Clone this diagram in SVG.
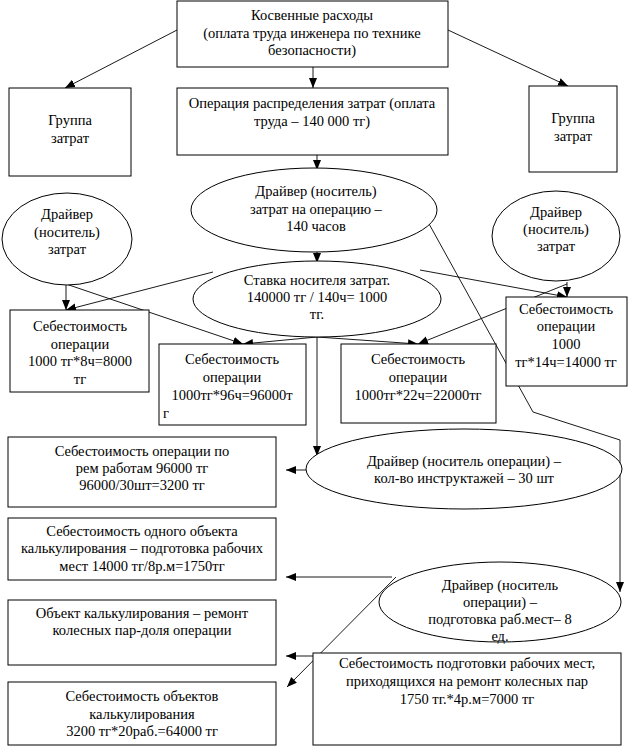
<svg xmlns="http://www.w3.org/2000/svg" width="629" height="750" viewBox="0 0 629 750">
<style>
.n{fill:#fff;stroke:#000;stroke-width:1}
.t{font-family:"Liberation Serif","Times New Roman",serif;font-size:14.5px;fill:#000;text-anchor:middle}
.c{fill:none;stroke:#000;stroke-width:0.9}
</style>
<defs>
<marker id="a" markerUnits="userSpaceOnUse" markerWidth="10" markerHeight="10" viewBox="0 0 10 10" refX="10" refY="5" orient="auto">
<path d="M0,1 L10,5 L0,9 Z" fill="#000"/>
</marker>
</defs>
<rect width="629" height="750" fill="#fff"/>
<g id="connectors">
<line class="c" x1="177" y1="30" x2="65" y2="88" marker-end="url(#a)"/>
<line class="c" x1="313" y1="67" x2="313" y2="88" marker-end="url(#a)"/>
<line class="c" x1="448" y1="30" x2="568" y2="86" marker-end="url(#a)"/>
<line class="c" x1="317" y1="155" x2="317" y2="170" marker-end="url(#a)"/>
<line class="c" x1="317" y1="252" x2="317" y2="263" marker-end="url(#a)"/>
<line class="c" x1="66" y1="285" x2="66" y2="310" marker-end="url(#a)"/>
<line class="c" x1="66" y1="284" x2="243" y2="344" marker-end="url(#a)"/>
<line class="c" x1="213" y1="272" x2="66" y2="310" marker-end="url(#a)"/>
<line class="c" x1="420" y1="270" x2="567" y2="297" marker-end="url(#a)"/>
<line class="c" x1="567" y1="282" x2="567" y2="297" marker-end="url(#a)"/>
<line class="c" x1="567" y1="284" x2="418" y2="344" marker-end="url(#a)"/>
<line class="c" x1="317" y1="337" x2="243" y2="344" marker-end="url(#a)"/>
<line class="c" x1="317" y1="337" x2="418" y2="344" marker-end="url(#a)"/>
<line class="c" x1="317" y1="337" x2="317" y2="456" marker-end="url(#a)"/>
<line class="c" x1="306" y1="470" x2="286" y2="470" marker-end="url(#a)"/>
<polyline class="c" points="428,222 533,412 620,440 620,592" marker-end="url(#a)"/>
<line class="c" x1="392" y1="577" x2="286" y2="577" marker-end="url(#a)"/>
<line class="c" x1="313" y1="656" x2="286" y2="656" marker-end="url(#a)"/>
<line class="c" x1="396" y1="577" x2="287" y2="687" marker-end="url(#a)"/>
</g>
<g id="top">
<rect class="n" x="177" y="1" width="271" height="66"/>
<text class="t" x="312" y="20">Косвенные расходы</text>
<text class="t" x="312" y="38">(оплата труда инженера по технике</text>
<text class="t" x="312" y="55">безопасности)</text>
</g>
<g id="groupLeft">
<rect class="n" x="9" y="88" width="122" height="88"/>
<text class="t" x="70" y="125">Группа</text>
<text class="t" x="70" y="143">затрат</text>
</g>
<g id="operation">
<rect class="n" x="177" y="88" width="271" height="67"/>
<text class="t" x="312" y="108">Операция распределения затрат (оплата</text>
<text class="t" x="312" y="126">труда – 140 000 тг)</text>
</g>
<g id="groupRight">
<rect class="n" x="529" y="86" width="88" height="86"/>
<text class="t" x="573" y="123">Группа</text>
<text class="t" x="573" y="141">затрат</text>
</g>
<g id="driverOp">
<ellipse class="n" cx="314" cy="210" rx="123" ry="42"/>
<text class="t" x="316" y="196">Драйвер (носитель)</text>
<text class="t" x="316" y="214">затрат на операцию –</text>
<text class="t" x="316" y="231">140 часов</text>
</g>
<g id="driverLeft">
<ellipse class="n" cx="67" cy="239" rx="65" ry="46"/>
<text class="t" x="67" y="219">Драйвер</text>
<text class="t" x="67" y="237">(носитель)</text>
<text class="t" x="67" y="254">затрат</text>
</g>
<g id="driverRight">
<ellipse class="n" cx="556" cy="236" rx="64" ry="45"/>
<text class="t" x="556" y="217">Драйвер</text>
<text class="t" x="556" y="234">(носитель)</text>
<text class="t" x="556" y="251">затрат</text>
</g>
<g id="rate">
<ellipse class="n" cx="317" cy="299" rx="124" ry="38"/>
<text class="t" x="317" y="285">Ставка носителя затрат.</text>
<text class="t" x="317" y="302">140000 тг / 140ч= 1000</text>
<text class="t" x="317" y="319">тг.</text>
</g>
<g id="costA">
<rect class="n" x="10" y="310" width="139" height="82"/>
<text class="t" x="80" y="331">Себестоимость</text>
<text class="t" x="80" y="349">операции</text>
<text class="t" x="80" y="366">1000 тг*8ч=8000</text>
<text class="t" x="80" y="384">тг</text>
</g>
<g id="costB">
<rect class="n" x="159" y="344" width="147" height="81"/>
<text class="t" x="232" y="364">Себестоимость</text>
<text class="t" x="232" y="382">операции</text>
<text class="t" x="232" y="400">1000тг*96ч=96000т</text>
<text class="t" x="163" y="418" style="text-anchor:start">г</text>
</g>
<g id="costC">
<rect class="n" x="341" y="344" width="155" height="79"/>
<text class="t" x="418" y="364">Себестоимость</text>
<text class="t" x="418" y="382">операции</text>
<text class="t" x="418" y="400">1000тг*22ч=22000тг</text>
</g>
<g id="costD">
<rect class="n" x="506" y="297" width="121" height="89"/>
<text class="t" x="566" y="314">Себестоимость</text>
<text class="t" x="566" y="331">операции</text>
<text class="t" x="566" y="349">1000</text>
<text class="t" x="566" y="367">тг*14ч=14000 тг</text>
</g>
<g id="costRepair">
<rect class="n" x="8" y="437" width="268" height="70"/>
<text class="t" x="142" y="456">Себестоимость операции по</text>
<text class="t" x="142" y="473">рем работам 96000 тг</text>
<text class="t" x="142" y="490">96000/30шт=3200 тг</text>
</g>
<g id="driverBriefing">
<ellipse class="n" cx="464" cy="469" rx="158" ry="40"/>
<text class="t" x="464" y="466">Драйвер (носитель операции) –</text>
<text class="t" x="464" y="483">кол-во инструктажей – 30 шт</text>
</g>
<g id="costOneObject">
<rect class="n" x="8" y="518" width="268" height="62"/>
<text class="t" x="142" y="536">Себестоимость одного объекта</text>
<text class="t" x="142" y="553">калькулирования – подготовка рабочих</text>
<text class="t" x="142" y="571">мест 14000 тг/8р.м=1750тг</text>
</g>
<g id="driverWorkplace">
<ellipse class="n" cx="500" cy="602" rx="121" ry="40"/>
<text class="t" x="500" y="590">Драйвер (носитель</text>
<text class="t" x="500" y="607">операции) –</text>
<text class="t" x="500" y="624">подготовка раб.мест– 8</text>
<text class="t" x="500" y="641">ед.</text>
</g>
<g id="objectRepair">
<rect class="n" x="8" y="600" width="268" height="65"/>
<text class="t" x="142" y="618">Объект калькулирования – ремонт</text>
<text class="t" x="142" y="635">колесных пар-доля операции</text>
</g>
<g id="costWorkplaces">
<rect class="n" x="313" y="653" width="308" height="92"/>
<text class="t" x="467" y="668">Себестоимость подготовки рабочих мест,</text>
<text class="t" x="467" y="686">приходящихся на ремонт колесных пар</text>
<text class="t" x="467" y="704">1750 тг.*4р.м=7000 тг</text>
</g>
<g id="costObjects">
<rect class="n" x="8" y="682" width="268" height="63"/>
<text class="t" x="142" y="701">Себестоимость объектов</text>
<text class="t" x="142" y="719">калькулирования</text>
<text class="t" x="142" y="736">3200 тг*20раб.=64000 тг</text>
</g>
</svg>
